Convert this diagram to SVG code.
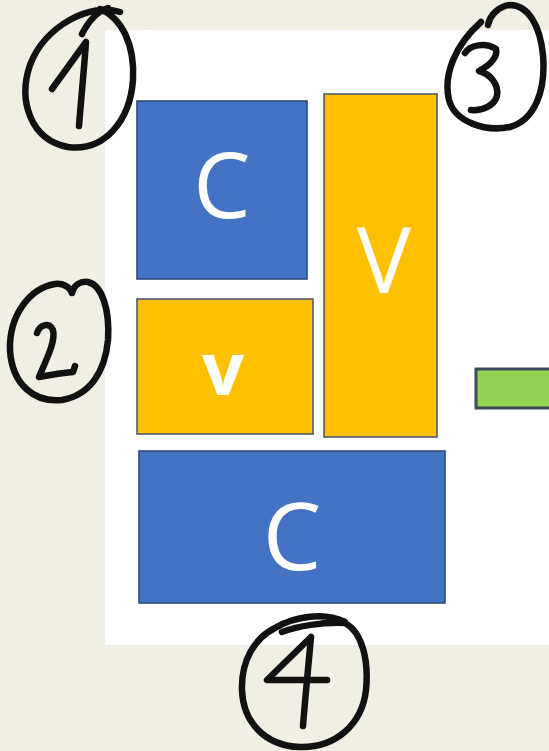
<svg xmlns="http://www.w3.org/2000/svg" width="549" height="751" viewBox="0 0 549 751">
<style>
.blue{fill:#4472c4;stroke:#2f4a7a;stroke-width:1.6}
.orange{fill:#ffc000;stroke:#4f5b72;stroke-width:1.6}
.green{fill:#92d050;stroke:#3f4b5d;stroke-width:3}
.lbl{fill:#ffffff;font-family:"Open Sans","Noto Sans","Liberation Sans",sans-serif;text-anchor:middle}
.ink{fill:none;stroke:#111;stroke-width:6.5;stroke-linecap:round;stroke-linejoin:round}
</style>
<defs>
<filter id="paper" x="0" y="0" width="100%" height="100%">
<feTurbulence type="fractalNoise" baseFrequency="0.6" numOctaves="3" seed="4"/>
<feColorMatrix type="matrix" values="0 0 0 0 0.55  0 0 0 0 0.5  0 0 0 0 0.4  0 0 0 0.35 0"/>
</filter>
</defs>
<rect x="0" y="0" width="549" height="751" fill="#f4f1e6"/>
<rect x="0" y="0" width="549" height="751" filter="url(#paper)" opacity="0.3"/>
<rect x="105" y="30" width="444" height="615" fill="#ffffff"/>
<g id="connectors"></g>
<g id="node-c1">
<rect class="blue" x="137" y="101" width="170" height="178"/>
<text class="lbl" x="222" y="218" font-size="91">C</text>
</g>
<g id="node-v-small">
<rect class="orange" x="137" y="299" width="176" height="135"/>
<text class="lbl" x="223" y="395" font-size="74" font-weight="700">v</text>
</g>
<g id="node-v-tall">
<rect class="orange" x="324" y="94" width="113" height="343"/>
<text class="lbl" x="384" y="293" font-size="91">V</text>
</g>
<g id="node-c2">
<rect class="blue" x="139" y="451" width="306" height="152"/>
<text class="lbl" x="292" y="570" font-size="93">C</text>
</g>
<g id="node-green">
<rect class="green" x="476" y="369" width="80" height="39"/>
</g>
<g id="mark-1">
<path class="ink" d="M120 12 C92 2,45 25,30 65 C18 100,30 140,68 147 C105 152,130 120,133 80 C135 45,122 18,100 9"/>
<path class="ink" d="M82 34 C88 22,96 12,108 8"/>
<path class="ink" d="M52 89 L86 42 C84 70,81 100,79 126"/>
</g>
<g id="mark-2">
<path class="ink" d="M72 293 C74 285,80 281,88 282 C102 285,110 310,108 340 C105 372,90 395,62 400 C35 403,12 385,10 350 C9 315,30 288,55 284 C63 283,70 287,72 293"/>
<path class="ink" d="M37 333 C40 324,50 322,53 330 C56 342,45 362,39 377 C50 375,62 373,73 372 L75 366"/>
</g>
<g id="mark-3">
<path class="ink" d="M488 25 C490 14,500 6,510 5 C528 5,540 25,543 55 C546 90,535 120,510 127 C485 132,455 122,449 100 C443 75,455 45,481 22"/>
<path class="ink" d="M465 53 C470 45,485 42,496 49 C498 58,488 66,479 71 C490 74,499 84,497 96 C494 106,482 111,471 110"/>
</g>
<g id="mark-4">
<path class="ink" d="M282 632 C298 626,322 622,345 623 C362 632,369 660,366 690 C362 725,335 748,300 747 C265 746,243 722,242 690 C241 660,255 638,275 628 C295 616,325 612,345 622"/>
<path class="ink" d="M311 637 L267 680 L327 680 M311 637 C308 670,305 700,303 726"/>
</g>
</svg>
